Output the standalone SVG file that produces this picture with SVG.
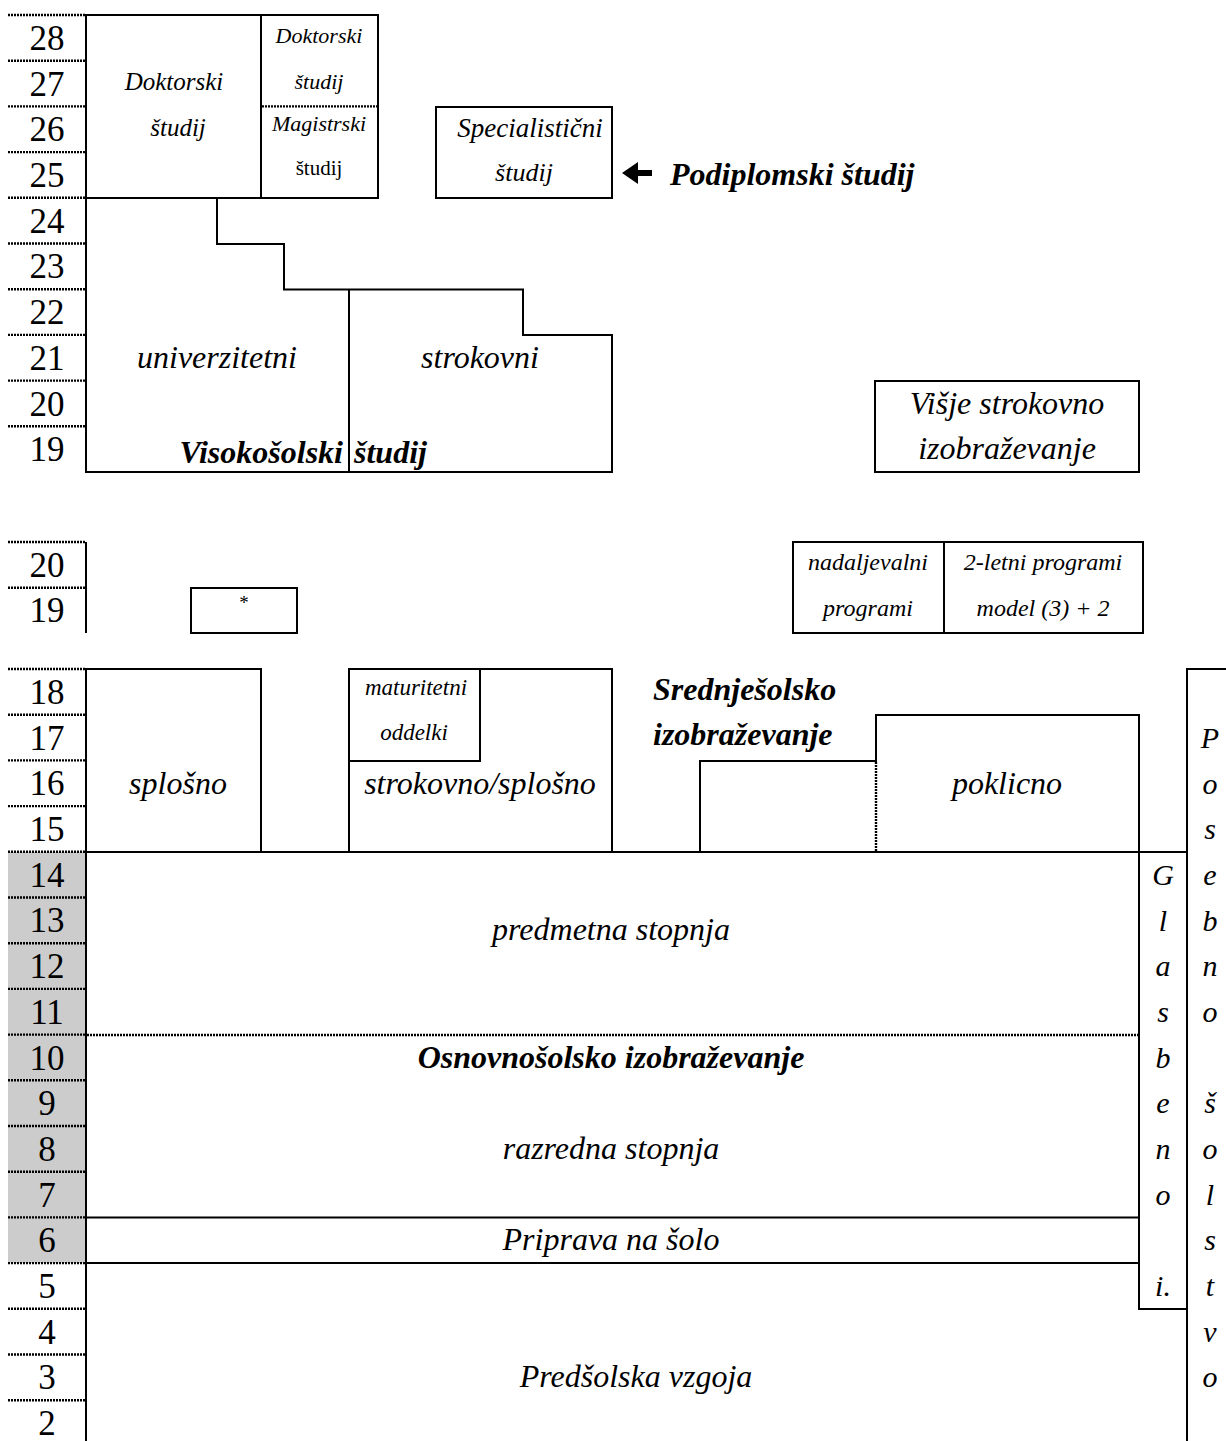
<svg xmlns="http://www.w3.org/2000/svg" width="1226" height="1441" viewBox="0 0 1226 1441">
<style>
.ln{stroke:#000;stroke-width:2;fill:none}
.dl{stroke:#000;stroke-width:2.4;stroke-dasharray:2 1;fill:none}
.num{font-family:"Liberation Serif","Times New Roman",serif;font-size:35px;text-anchor:middle}
.lb{font-family:"Liberation Serif","Times New Roman",serif;font-style:italic;font-size:31px;text-anchor:middle}
.vl{font-family:"Liberation Serif","Times New Roman",serif;font-style:italic;font-size:32px;text-anchor:middle}
.bl{font-family:"Liberation Serif","Times New Roman",serif;font-style:italic;font-weight:bold;font-size:32px}
.sm{font-family:"Liberation Serif","Times New Roman",serif;font-style:italic;font-size:25px;text-anchor:middle}
.xs{font-family:"Liberation Serif","Times New Roman",serif;font-style:italic;font-size:22px;text-anchor:middle}
.ns{font-family:"Liberation Serif","Times New Roman",serif;font-style:italic;font-size:24px;text-anchor:middle}
.up{font-family:"Liberation Serif","Times New Roman",serif;font-size:21px;text-anchor:middle}
.col{font-family:"Liberation Serif","Times New Roman",serif;font-style:italic;font-size:30px;text-anchor:middle}
</style>
<rect width="1226" height="1441" fill="#fff"/>

<g id="age-scale">
<rect x="8" y="852" width="78" height="411" fill="#cccccc"/>
<path class="dl" d="M8 15H86M8 60.7H86M8 106.4H86M8 152.1H86M8 197.8H86M8 243.5H86M8 289.2H86M8 334.9H86M8 380.6H86M8 426.3H86"/>
<path class="dl" d="M8 542H86M8 587.7H86"/>
<path class="dl" d="M8 669H86M8 714.7H86M8 760.4H86M8 806.1H86M8 851.8H86M8 897.5H86M8 943.2H86M8 988.9H86M8 1034.6H86M8 1080.3H86M8 1126H86M8 1171.7H86M8 1217.4H86M8 1263.1H86M8 1308.8H86M8 1354.5H86M8 1400.2H86"/>
<text class="num" x="47" y="50">28</text>
<text class="num" x="47" y="96">27</text>
<text class="num" x="47" y="141">26</text>
<text class="num" x="47" y="187">25</text>
<text class="num" x="47" y="233">24</text>
<text class="num" x="47" y="278">23</text>
<text class="num" x="47" y="324">22</text>
<text class="num" x="47" y="370">21</text>
<text class="num" x="47" y="416">20</text>
<text class="num" x="47" y="461">19</text>
<text class="num" x="47" y="577">20</text>
<text class="num" x="47" y="622">19</text>
<text class="num" x="47" y="704">18</text>
<text class="num" x="47" y="750">17</text>
<text class="num" x="47" y="795">16</text>
<text class="num" x="47" y="841">15</text>
<text class="num" x="47" y="887">14</text>
<text class="num" x="47" y="932">13</text>
<text class="num" x="47" y="978">12</text>
<text class="num" x="47" y="1024">11</text>
<text class="num" x="47" y="1070">10</text>
<text class="num" x="47" y="1115">9</text>
<text class="num" x="47" y="1161">8</text>
<text class="num" x="47" y="1207">7</text>
<text class="num" x="47" y="1252">6</text>
<text class="num" x="47" y="1298">5</text>
<text class="num" x="47" y="1344">4</text>
<text class="num" x="47" y="1389">3</text>
<text class="num" x="47" y="1435">2</text>
</g>

<g id="doktorski">
<rect class="ln" x="86" y="15" width="175" height="183"/>
<text class="sm" x="174" y="90">Doktorski</text>
<text class="sm" x="178" y="136">študij</text>
</g>

<g id="doktorski-magistrski">
<rect class="ln" x="261" y="15" width="117" height="183"/>
<path class="dl" d="M262 106.4H378"/>
<text class="xs" x="319" y="43">Doktorski</text>
<text class="xs" x="319" y="89">študij</text>
<text class="xs" x="319" y="131">Magistrski</text>
<text class="up" x="319" y="175">študij</text>
</g>

<g id="specialisticni">
<rect class="ln" x="436" y="107" width="176" height="91"/>
<text class="sm" x="530" y="137" style="font-size:27px">Specialistični</text>
<text class="sm" x="524" y="181" style="font-size:26px">študij</text>
</g>

<g id="podiplomski">
<text class="bl" x="670" y="185">Podiplomski študij</text>
</g>

<g id="visokosolski">
<path class="ln" d="M86 198V472H612V335H523V289.5H284V244H217V198"/>
<path class="ln" d="M349 289.5V472"/>
<text class="vl" x="217" y="368">univerzitetni</text>
<text class="vl" x="480" y="368">strokovni</text>
<text class="bl" x="343" y="463" text-anchor="end">Visokošolski</text>
<text class="bl" x="354" y="463">študij</text>
</g>

<g id="visje">
<rect class="ln" x="875" y="381" width="264" height="91"/>
<text class="vl" x="1007" y="414">Višje strokovno</text>
<text class="vl" x="1007" y="459">izobraževanje</text>
</g>

<g id="middle-axis">
<path class="ln" d="M86 542V633"/>
</g>

<g id="star">
<rect class="ln" x="191" y="588" width="106" height="45"/>
<text class="up" x="244" y="609" style="font-size:19px">*</text>
</g>

<g id="nadaljevalni">
<rect class="ln" x="793" y="542" width="350" height="91"/>
<path class="ln" d="M944 542V633"/>
<text class="ns" x="868" y="570">nadaljevalni</text>
<text class="ns" x="868" y="616">programi</text>
<text class="ns" x="1043" y="570">2-letni programi</text>
<text class="ns" x="1043" y="616">model (3) + 2</text>
</g>

<g id="splosno">
<rect class="ln" x="86" y="669" width="175" height="183"/>
<text class="vl" x="178" y="794">splošno</text>
</g>

<g id="strokovno-splosno">
<rect class="ln" x="349" y="669" width="263" height="183"/>
<path class="ln" d="M480 669V761H349"/>
<text class="xs" x="416" y="695" style="font-size:23px">maturitetni</text>
<text class="xs" x="414" y="740" style="font-size:23px">oddelki</text>
<text class="vl" x="480" y="794">strokovno/splošno</text>
</g>

<g id="srednjesolsko">
<text class="bl" x="653" y="700">Srednješolsko</text>
<text class="bl" x="653" y="745">izobraževanje</text>
</g>

<g id="poklicno">
<path class="ln" d="M700 852V761H876V715H1139V852"/>
<path class="dl" d="M876 762V852"/>
<text class="vl" x="1007" y="794">poklicno</text>
</g>

<g id="osnovnosolsko">
<path class="ln" d="M86 669V1441"/>
<path class="ln" d="M86 852H1187"/>
<path class="dl" d="M87 1035H1139"/>
<text class="vl" x="611" y="940">predmetna stopnja</text>
<text class="bl" x="611" y="1068" text-anchor="middle">Osnovnošolsko izobraževanje</text>
<text class="vl" x="611" y="1159">razredna stopnja</text>
</g>

<g id="priprava">
<path class="ln" d="M86 1217.4H1139M86 1263.1H1139"/>
<text class="vl" x="611" y="1250">Priprava na šolo</text>
</g>

<g id="predsolska">
<text class="vl" x="636" y="1387">Predšolska vzgoja</text>
</g>

<g id="glasbeno">
<path class="ln" d="M1139 852V1309H1187"/>
<text class="col" x="1163" y="885">G</text>
<text class="col" x="1163" y="931">l</text>
<text class="col" x="1163" y="976">a</text>
<text class="col" x="1163" y="1022">s</text>
<text class="col" x="1163" y="1068">b</text>
<text class="col" x="1163" y="1113">e</text>
<text class="col" x="1163" y="1159">n</text>
<text class="col" x="1163" y="1205">o</text>
<text class="col" x="1163" y="1296">i.</text>
</g>

<g id="posebno">
<path class="ln" d="M1226 669H1187V1441"/>
<text class="col" x="1210" y="748">P</text>
<text class="col" x="1210" y="794">o</text>
<text class="col" x="1210" y="839">s</text>
<text class="col" x="1210" y="885">e</text>
<text class="col" x="1210" y="931">b</text>
<text class="col" x="1210" y="976">n</text>
<text class="col" x="1210" y="1022">o</text>
<text class="col" x="1210" y="1113">š</text>
<text class="col" x="1210" y="1159">o</text>
<text class="col" x="1210" y="1205">l</text>
<text class="col" x="1210" y="1250">s</text>
<text class="col" x="1210" y="1296">t</text>
<text class="col" x="1210" y="1342">v</text>
<text class="col" x="1210" y="1387">o</text>
</g>

<g id="connectors">
<path d="M622 173L638 162V170H652V176H638V184Z" fill="#000"/>
</g>
</svg>
